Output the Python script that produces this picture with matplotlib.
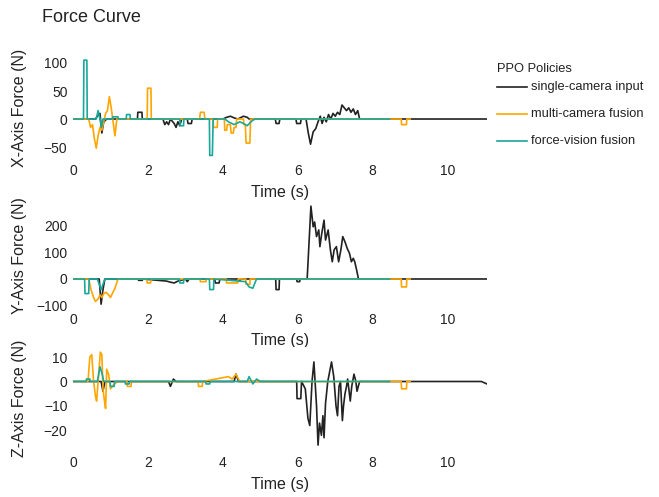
import matplotlib
matplotlib.use("Agg")
import matplotlib.pyplot as plt
from matplotlib.lines import Line2D

plt.rcParams['font.family'] = ['Liberation Sans', 'DejaVu Sans']

# policy names and colours
policies = ["single-camera input", "multi-camera fusion", "force-vision fusion"]
colors = ["#222222", "#FFA500", "#1aa89b"]

# ---- X axis force (time, value) ----
single_x_t = [0, 0.6, 0.65, 0.72, 0.77, 0.82, 0.9, 1.72, 1.73, 1.84, 1.85, 2.4, 2.45, 2.5, 2.55, 2.6, 2.7, 2.75, 2.8, 2.85, 2.9,
              3.05, 3.07, 3.16, 3.18, 4.0, 4.1, 4.2, 4.3, 4.4, 4.55, 4.65, 4.7, 5.4, 5.42, 5.5, 5.52, 5.95, 5.97, 6.07, 6.09,
              6.22, 6.28, 6.34, 6.41, 6.48, 6.54, 6.6, 6.65, 6.7, 6.76, 6.82, 6.88, 6.94, 7.0, 7.06, 7.12, 7.18, 7.24, 7.3,
              7.36, 7.42, 7.48, 7.54, 7.6, 7.65, 11.05]
single_x_v = [0, 0, 5, 10, -25, -5, 0, 0, 12, 12, 0, 0, -10, -5, -10, 0, -8, -15, -5, -12, 0,
              0, -8, -8, 0, 0, 3, 5, 2, 0, 5, 3, 0, 0, -8, -8, 0, 0, -8, -8, 0,
              0, -25, -45, -23, -17, -5, 5, -8, 3, -5, 8, 0, 10, 5, 12, 8, 25, 20, 15,
              20, 12, 18, 8, 15, 0, 0]
multi_x_t = [0, 0.42, 0.47, 0.52, 0.57, 0.62, 0.67, 0.72, 0.77, 0.82, 0.87, 0.92, 0.97, 1.02, 1.07, 1.12, 1.17, 1.98, 1.99,
             2.08, 2.09, 3.38, 3.4, 3.5, 3.52, 3.74, 3.75, 3.85, 3.86, 4.04, 4.05, 4.1, 4.12, 4.2, 4.22, 4.28, 4.3, 4.35,
             4.37, 4.55, 4.56, 4.6, 4.62, 4.72, 4.74, 8.76, 8.77, 8.9, 8.91, 9.0]
multi_x_v = [0, 0, -15, -10, -35, -52, -30, -15, -20, -5, 10, 15, 40, 20, -5, -30, 0, 0, 55,
             55, 0, 0, 12, 12, 0, 0, -15, -15, 0, 0, -20, -20, -10, -10, -25, -25, -15, -15,
             0, 0, -10, -10, -43, -43, 0, 0, -10, -10, 0, 0]
fv_x_t = [0, 0.28, 0.29, 0.37, 0.38, 0.62, 0.67, 0.72, 0.76, 0.8, 1.05, 1.06, 1.2, 1.21, 1.42, 1.43, 1.52, 1.53, 2.85, 2.86,
          2.95, 2.96, 3.64, 3.65, 3.72, 3.74, 4.05, 4.15, 4.3, 4.45, 4.55, 4.65, 4.75, 4.85, 8.45]
fv_x_v = [0, 0, 105, 105, 0, 0, 15, 0, -15, 0, 0, 4, 4, 0, 0, 8, 8, 0, 0, -12,
          -12, 0, 0, -65, -65, 0, 0, -5, -10, -5, -8, -12, -5, 0, 0]

# ---- Y axis force ----
single_y_t = [0, 0.7, 0.75, 0.8, 0.85, 1.74, 1.75, 1.85, 1.86, 2.5, 2.6, 2.7, 2.8, 2.9, 3.0, 3.05, 3.1, 3.78, 3.8, 3.9, 3.92,
              4.4, 4.45, 4.5, 5.41, 5.42, 5.5, 5.51, 5.97, 5.98, 6.05, 6.06, 6.25, 6.35, 6.41, 6.45, 6.5, 6.56, 6.59, 6.64,
              6.7, 6.74, 6.81, 6.87, 6.92, 6.97, 7.03, 7.09, 7.15, 7.2, 7.26, 7.32, 7.38, 7.43, 7.48, 7.52, 7.57, 7.62, 11.05]
single_y_v = [0, 0, -95, -40, 0, 0, -5, -5, 0, -8, -12, -15, -8, -4, 0, -10, 0, 0, -15, -15, 0,
              0, -5, 0, 0, -40, -40, 0, 0, -10, -10, 0, 0, 275, 197, 215, 160, 185, 122, 172,
              222, 147, 185, 110, 65, 110, 122, 65, 110, 160, 140, 115, 97, 65, 78, 65, 34, 0, 0]
multi_y_t = [0, 0.42, 0.48, 0.55, 0.6, 0.67, 0.72, 0.77, 0.82, 0.88, 0.95, 1.0, 1.05, 1.12, 1.2, 1.97, 1.98, 2.07, 2.08,
             3.39, 3.4, 3.55, 3.56, 4.09, 4.1, 4.4, 4.41, 4.61, 4.62, 4.72, 4.73, 8.76, 8.77, 8.9, 8.91, 9.0]
multi_y_v = [0, 0, -40, -70, -85, -75, -60, -70, -55, -50, -60, -70, -55, -35, 0, 0, -15, -15, 0,
             0, -10, -10, 0, 0, -15, -15, 0, 0, -20, -20, 0, 0, -30, -30, 0, 0]
fv_y_t = [0, 0.31, 0.32, 0.42, 0.43, 0.65, 0.75, 0.85, 2.84, 2.85, 2.95, 2.96, 3.64, 3.65, 3.75, 3.76, 4.6, 4.7, 4.8, 4.87,
          4.9, 8.45]
fv_y_v = [0, 0, -55, -55, 0, 0, -40, 0, 0, -15, -15, 0, 0, -40, -40, 0, -10, -30, -35, -10,
          0, 0]

# ---- Z axis force ----
single_z_t = [0, 0.75, 0.8, 0.85, 2.55, 2.6, 2.68, 2.75, 4.3, 4.35, 4.42, 5.97, 5.98, 6.08, 6.1, 6.2, 6.27, 6.32, 6.38, 6.43,
              6.5, 6.54, 6.58, 6.63, 6.67, 6.7, 6.74, 6.8, 6.9, 6.96, 7.02, 7.06, 7.1, 7.14, 7.19, 7.22, 7.26, 7.3, 7.33,
              7.37, 7.4, 7.44, 7.5, 7.55, 7.58, 7.65, 10.9, 11.05]
single_z_v = [0, 0, -4, 0, 0, -2, 1, 0, 0, 3, 0, 0, -7, -7, 0, -3, -15, -18, 0, 8,
              -10, -26, -17, -22, -14, -23, -9, 0, 8, 2, -10, -14, -2, 0, -16, -10, -5, -2, 1,
              -4, -8, -2, 3, 0, -4, 0, 0, -1]
multi_z_t = [0, 0.4, 0.45, 0.5, 0.55, 0.6, 0.63, 0.68, 0.73, 0.77, 0.8, 0.84, 0.87, 0.9, 0.95, 1.0, 1.1, 1.2, 1.44, 1.45,
             1.55, 1.56, 3.34, 3.35, 3.45, 3.46, 4.15, 4.25, 4.35, 4.45, 8.76, 8.77, 8.9, 8.91, 9.0]
multi_z_v = [0, 0, 10, 11, 0, -6, -8, 2, 12, 11, -3, -8, -11, 5, 3, -3, -1, 0, 0, -2,
             -2, 0, 0, -2, -2, 0, 2, 1, 3, 0, 0, -3, -3, 0, 0]
fv_z_t = [0, 0.35, 0.36, 0.45, 0.46, 0.65, 0.72, 0.78, 0.82, 0.99, 1.0, 1.1, 1.11, 1.39, 1.4, 1.5, 1.51, 3.54, 3.55, 3.65,
          3.66, 4.65, 4.7, 4.8, 4.9, 5.0, 8.45]
fv_z_v = [0, 0, 1, 1, 0, 0, 6, 3, 0, 0, -2, -2, 0, 0, -1, -1, 0, 0, -1, -1,
          0, 0, 2, -1, 1, 0, 0]

panels = [
    ("X-Axis Force (N)", [(single_x_t, single_x_v), (multi_x_t, multi_x_v), (fv_x_t, fv_x_v)],
     (-69.6, 110.7), [-50, 0, 50, 100]),
    ("Y-Axis Force (N)", [(single_y_t, single_y_v), (multi_y_t, multi_y_v), (fv_y_t, fv_y_v)],
     (-105.7, 283), [-100, 0, 100, 200]),
    ("Z-Axis Force (N)", [(single_z_t, single_z_v), (multi_z_t, multi_z_v), (fv_z_t, fv_z_v)],
     (-28, 14.1), [-20, -10, 0, 10]),
]

W, H = 659, 497
fig = plt.figure(figsize=(W / 100, H / 100), dpi=100)

# axes boxes in pixels: (top, bottom)
boxes = [(57, 158), (204, 307), (347, 450)]
left, right = 73, 487

for (ylabel, series, ylim, yticks), (top, bot) in zip(panels, boxes):
    ax = fig.add_axes([left / W, 1 - bot / H, (right - left) / W, (bot - top) / H])
    for (t, v), c in zip(series, colors):
        ax.plot(t, v, color=c, lw=1.2)
    ax.set_xlim(0, 11.05)
    ax.set_ylim(*ylim)
    ax.set_xticks([0, 2, 4, 6, 8, 10])
    ax.set_yticks(yticks)
    ax.tick_params(length=0, labelsize=10, colors="#222222", pad=4)
    for s in ax.spines.values():
        s.set_visible(False)
    ax.set_xlabel("Time (s)", fontsize=11.5, color="#222222", labelpad=5)
    ax.set_ylabel(ylabel, fontsize=11.5, color="#222222")
    ax.yaxis.set_label_coords(-46 / (right - left), 0.5)

fig.text(42 / W, 1 - 17 / H, "Force Curve", fontsize=13, color="#222222", va="center", ha="left")

# legend drawn by hand
fig.text(497 / W, 1 - 69 / H, "PPO Policies", fontsize=9.3, color="#222222", va="center", ha="left")
for i, (name, c) in enumerate(zip(policies, colors)):
    y = 1 - (87 + 27 * i) / H
    fig.add_artist(Line2D([497 / W, 527 / W], [y, y], color=c, lw=1.2, transform=fig.transFigure))
    fig.text(531 / W, y, name, fontsize=9.3, color="#222222", va="center", ha="left")

fig.savefig("out.png", dpi=100)
